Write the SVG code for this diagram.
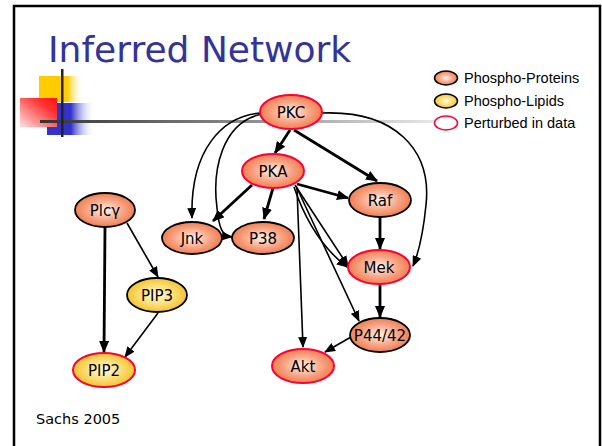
<svg xmlns="http://www.w3.org/2000/svg" width="602" height="446" viewBox="0 0 602 446">
<style>
.frame{fill:none;stroke:#000;stroke-width:2.5}
.title{font-family:"DejaVu Sans",sans-serif;font-size:36px;fill:#333399}
.lbl{font-family:"DejaVu Sans",sans-serif;font-size:15px;fill:#000;text-anchor:middle}
.leg{font-family:"Liberation Sans",Arial,sans-serif;font-size:14.5px;fill:#000}
.prot{fill:url(#gProt)}
.lip{fill:url(#gLip)}
.blk{stroke:#000;stroke-width:1.8}
.red{stroke:#ff0033;stroke-width:2}
.thick{fill:none;stroke:#000;stroke-width:2.8;marker-end:url(#ahT)}
.thin{fill:none;stroke:#000;stroke-width:1.6;marker-end:url(#ah)}
</style>
<defs>
<radialGradient id="gProt" cx="50%" cy="50%" r="55%">
<stop offset="0" stop-color="#fff3ec"/>
<stop offset="0.55" stop-color="#f8a585"/>
<stop offset="1" stop-color="#ee7445"/>
</radialGradient>
<radialGradient id="gLip" cx="50%" cy="50%" r="55%">
<stop offset="0" stop-color="#fffbe0"/>
<stop offset="0.55" stop-color="#fbdc70"/>
<stop offset="1" stop-color="#f0bd20"/>
</radialGradient>
<linearGradient id="gLine" x1="40" y1="0" x2="435" y2="0" gradientUnits="userSpaceOnUse">
<stop offset="0" stop-color="#333"/>
<stop offset="0.5" stop-color="#888"/>
<stop offset="1" stop-color="#e8e8e8"/>
</linearGradient>
<linearGradient id="gYel" x1="0" y1="0" x2="1" y2="0">
<stop offset="0" stop-color="#ffcc00"/>
<stop offset="0.65" stop-color="#ffcc00"/>
<stop offset="1" stop-color="#ffffff" stop-opacity="0"/>
</linearGradient>
<linearGradient id="gBlue" x1="0" y1="0" x2="1" y2="0">
<stop offset="0" stop-color="#3333cc"/>
<stop offset="0.5" stop-color="#3333cc"/>
<stop offset="1" stop-color="#ffffff" stop-opacity="0"/>
</linearGradient>
<linearGradient id="gRed" x1="1" y1="0" x2="0" y2="1">
<stop offset="0" stop-color="#ff1111"/>
<stop offset="0.3" stop-color="#ff3333"/>
<stop offset="1" stop-color="#ffe0e0"/>
</linearGradient>
<marker id="ahT" markerUnits="userSpaceOnUse" markerWidth="12" markerHeight="10" refX="11" refY="5" orient="auto">
<path d="M0,0 L12,5 L0,10 z" fill="#000"/>
</marker>
<marker id="ah" markerUnits="userSpaceOnUse" markerWidth="11" markerHeight="9" refX="10" refY="4.5" orient="auto">
<path d="M0,0 L11,4.5 L0,9 z" fill="#000"/>
</marker>
</defs>
<rect width="602" height="446" fill="#fff"/>
<rect class="frame" x="14" y="6" width="586" height="470"/>
<g id="decor">
<rect x="39" y="76" width="44" height="26" fill="url(#gYel)"/>
<rect x="47" y="103" width="48" height="32" fill="url(#gBlue)"/>
<rect x="20" y="98" width="37" height="29" fill="url(#gRed)"/>
<rect x="40" y="120" width="395" height="3" fill="url(#gLine)"/>
<rect x="61" y="69" width="2.5" height="68" fill="#222"/>
</g>
<text class="title" x="48" y="62">Inferred Network</text>
<g id="legend">
<ellipse class="prot" cx="446" cy="78" rx="11.5" ry="7" stroke="#000" stroke-width="1.5"/>
<text class="leg" x="464" y="83">Phospho-Proteins</text>
<ellipse class="lip" cx="446" cy="101" rx="11.5" ry="7" stroke="#000" stroke-width="1.5"/>
<text class="leg" x="464" y="106">Phospho-Lipids</text>
<ellipse cx="446" cy="123" rx="11.5" ry="7" fill="#fff" stroke="#ff0033" stroke-width="1.5"/>
<text class="leg" x="464" y="128">Perturbed in data</text>
</g>
<g id="connectors">
<path class="thick" d="M290,130 L275,153"/>
<path class="thick" d="M294,130 L377,181"/>
<path class="thick" d="M252,185 L213,221"/>
<path class="thick" d="M273,188 L264,219"/>
<path class="thick" d="M297,184 L348,198"/>
<path class="thick" d="M380,217 L380,249"/>
<path class="thick" d="M380,284 L380,317"/>
<path class="thick" d="M105,227 L104,352"/>
<path class="thin" d="M261,113 C222,116 190,150 192,218"/>
<path class="thin" d="M262,114 C222,122 212,170 217,208 C219,228 222,236 232,237"/>
<path class="thin" d="M322,113 C395,110 432,150 426,205 C423,235 419,252 413,266"/>
<path class="thin" d="M295,185 L348,266"/>
<path class="thin" d="M294,187 Q312,240 347,267"/>
<path class="thin" d="M296,186 L359,321"/>
<path class="thin" d="M297,188 L303,347"/>
<path class="thin" d="M351,337 L325,352"/>
<path class="thin" d="M127,223 L158,277"/>
<path class="thin" d="M158,313 L125,357"/>
</g>
<g id="PKC"><ellipse class="prot red" cx="291" cy="112" rx="31" ry="17"/><text class="lbl" x="291" y="118">PKC</text></g>
<g id="PKA"><ellipse class="prot red" cx="273" cy="171" rx="31" ry="17"/><text class="lbl" x="273" y="177">PKA</text></g>
<g id="Raf"><ellipse class="prot blk" cx="380" cy="200" rx="31" ry="17"/><text class="lbl" x="380" y="206">Raf</text></g>
<g id="Jnk"><ellipse class="prot blk" cx="192" cy="238" rx="30" ry="16"/><text class="lbl" x="192" y="244">Jnk</text></g>
<g id="P38"><ellipse class="prot blk" cx="263" cy="238" rx="31" ry="16"/><text class="lbl" x="263" y="244">P38</text></g>
<g id="Mek"><ellipse class="prot red" cx="379" cy="267" rx="31" ry="17"/><text class="lbl" x="379" y="273">Mek</text></g>
<g id="P4442"><ellipse class="prot blk" cx="380" cy="335" rx="30" ry="17"/><text class="lbl" x="380" y="341">P44/42</text></g>
<g id="Akt"><ellipse class="prot red" cx="303" cy="366" rx="31" ry="17"/><text class="lbl" x="303" y="372">Akt</text></g>
<g id="Plcg"><ellipse class="prot blk" cx="105" cy="210" rx="30" ry="17"/><text class="lbl" x="105" y="216">Plcγ</text></g>
<g id="PIP3"><ellipse class="lip blk" cx="157" cy="295" rx="30" ry="17"/><text class="lbl" x="157" y="301">PIP3</text></g>
<g id="PIP2"><ellipse class="lip red" cx="104" cy="370" rx="31" ry="17"/><text class="lbl" x="104" y="376">PIP2</text></g>
<text x="36" y="424" font-family="DejaVu Sans, sans-serif" font-size="14.5" fill="#000">Sachs 2005</text>
</svg>
